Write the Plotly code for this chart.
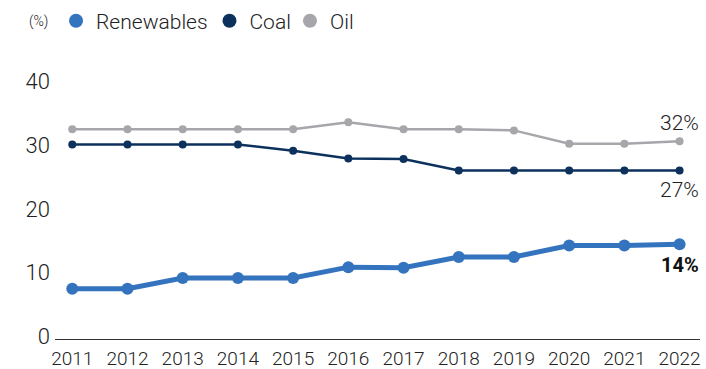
import plotly.graph_objects as go

years = [2011, 2012, 2013, 2014, 2015, 2016, 2017, 2018, 2019, 2020, 2021, 2022]
renewables = [7.9, 7.9, 9.6, 9.6, 9.6, 11.3, 11.2, 12.9, 12.9, 14.7, 14.7, 14.9]
coal = [30.6, 30.6, 30.6, 30.6, 29.6, 28.4, 28.3, 26.5, 26.5, 26.5, 26.5, 26.5]
oil = [33.0, 33.0, 33.0, 33.0, 33.0, 34.1, 33.0, 33.0, 32.8, 30.7, 30.7, 31.1]
end_labels = ["14%", "27%", "32%"]
y_ticks = [0, 10, 20, 30, 40]

C_REN = "#3473BE"
C_COAL = "#0C315C"
C_OIL = "#A6A6AB"
FONT = "Roboto"
TXT = "#222222"
W = 300

fig = go.Figure()

fig.add_trace(go.Scatter(x=years, y=oil, mode="lines+markers", showlegend=False,
                         line=dict(color=C_OIL, width=2.5), marker=dict(size=8, color=C_OIL)))
fig.add_trace(go.Scatter(x=years, y=coal, mode="lines+markers", showlegend=False,
                         line=dict(color=C_COAL, width=2.5), marker=dict(size=8, color=C_COAL)))
fig.add_trace(go.Scatter(x=years, y=renewables, mode="lines+markers", showlegend=False,
                         line=dict(color=C_REN, width=5), marker=dict(size=12, color=C_REN)))

legend_items = [("Renewables", C_REN, "legend", 0.0016),
                ("Coal", C_COAL, "legend2", 0.2395),
                ("Oil", C_OIL, "legend3", 0.3643)]
leg_layout = {}
for name, col, lg, lx in legend_items:
    fig.add_trace(go.Scatter(x=[None], y=[None], mode="markers", name=name, legend=lg,
                             marker=dict(size=14, color=col)))
    leg_layout[lg] = dict(orientation="h", x=lx, y=1.182, xanchor="left", yanchor="middle",
                          font=dict(family=FONT, size=21, color=TXT, weight=W),
                          bgcolor="rgba(0,0,0,0)")

fig.add_annotation(x=years[-1], y=renewables[-1], text="<b>" + end_labels[0] + "</b>",
                   showarrow=False, xanchor="right", xshift=21, yshift=-21,
                   font=dict(family=FONT, size=20, color="#111"))
fig.add_annotation(x=years[-1], y=coal[-1], text=end_labels[1],
                   showarrow=False, xanchor="right", xshift=21, yshift=-20,
                   font=dict(family=FONT, size=21, color=TXT, weight=W))
fig.add_annotation(x=years[-1], y=oil[-1], text=end_labels[2],
                   showarrow=False, xanchor="right", xshift=21, yshift=18,
                   font=dict(family=FONT, size=21, color=TXT, weight=W))

fig.add_annotation(xref="paper", yref="paper", x=-0.043, y=1.182, text="(%)",
                   showarrow=False, xanchor="left", yanchor="middle",
                   font=dict(family=FONT, size=14, color=TXT, weight=W))

fig.update_layout(
    width=706, height=369,
    margin=dict(l=55, r=6, t=70, b=30, autoexpand=False),
    plot_bgcolor="white", paper_bgcolor="white",
    font=dict(family=FONT, color=TXT),
    showlegend=True,
    **leg_layout,
    xaxis=dict(range=[2010.687, 2022.37], tickmode="array", tickvals=years,
               ticktext=[str(y) for y in years], showgrid=False, zeroline=False,
               showline=True, linecolor="#333", linewidth=1, ticks="",
               ticklabelstandoff=2, automargin=False,
               tickfont=dict(family=FONT, size=19, color=TXT, weight=W)),
    yaxis=dict(range=[0, 42.3], tickvals=y_ticks, showgrid=False, zeroline=False,
               showline=False, ticks="", ticklabelstandoff=4, ticklabelshift=-3,
               automargin=False,
               tickfont=dict(family=FONT, size=22, color=TXT, weight=W)),
)

fig.write_html("out.html")
